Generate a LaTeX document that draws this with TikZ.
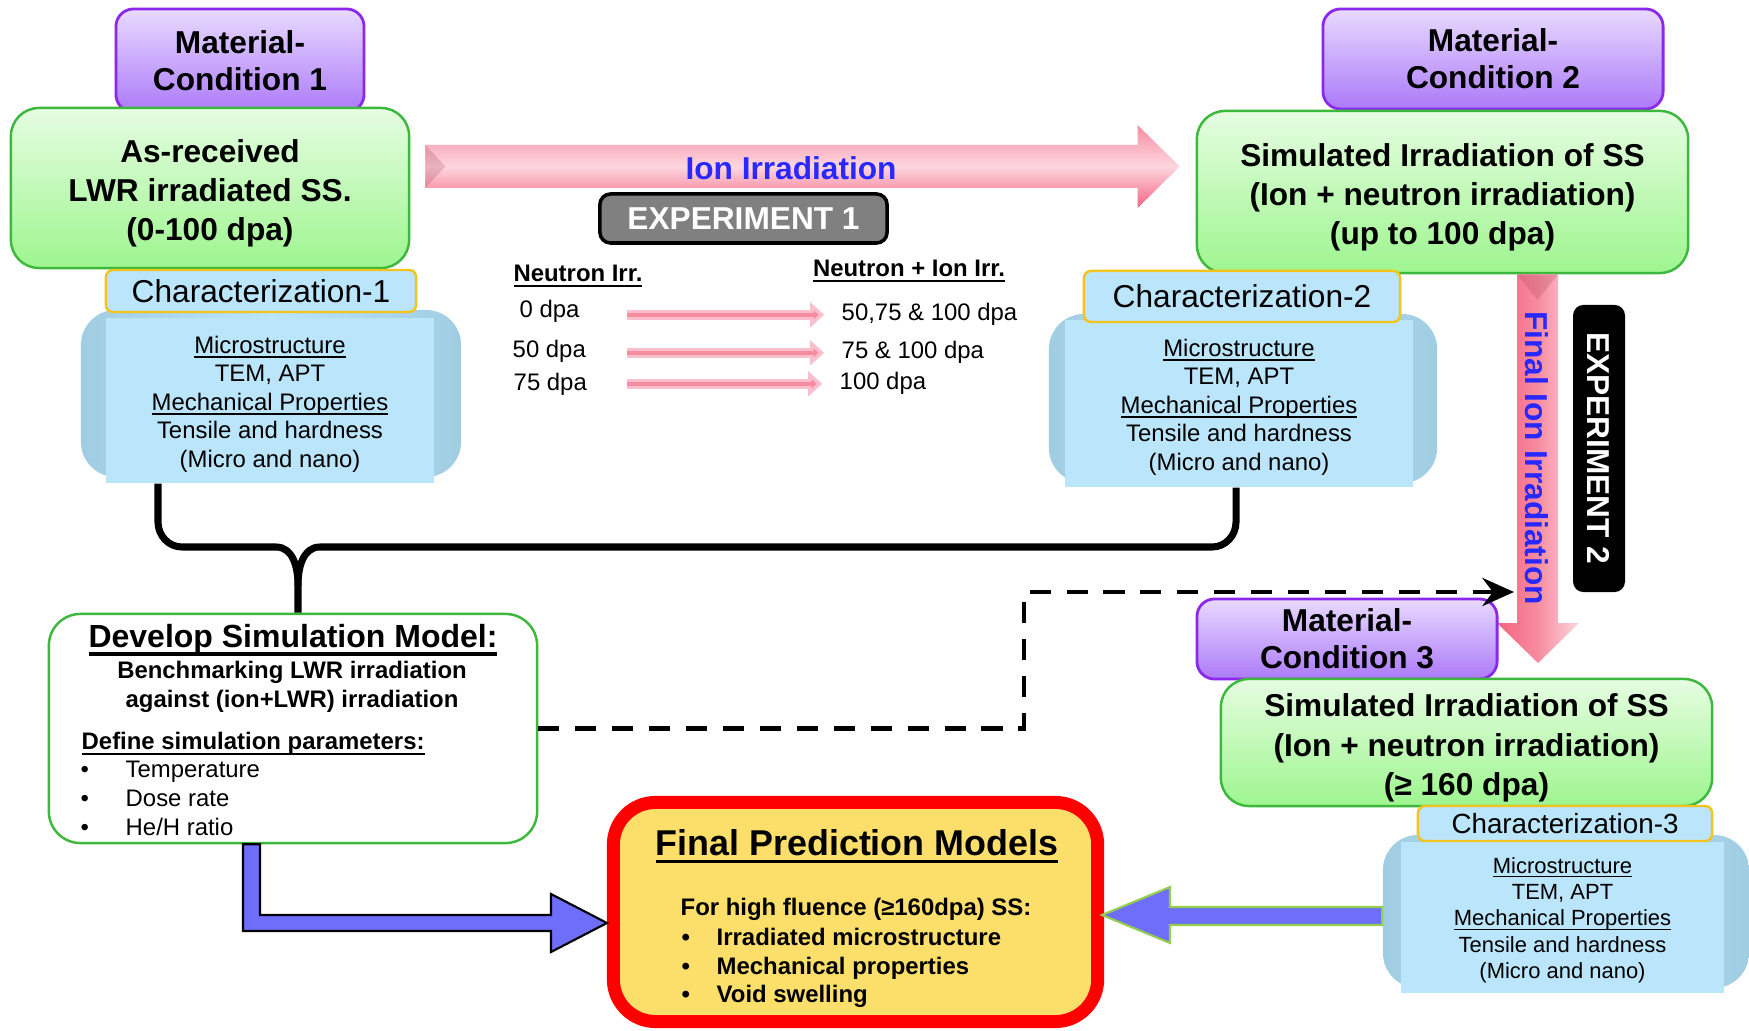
\documentclass[tikz,border=0pt]{standalone}
\usepackage{fontspec}
\setmainfont{Liberation Sans}
\usetikzlibrary{arrows.meta,calc}

\newcommand{\undl}[3][0.45pt]{\setbox0\hbox{#3}\rlap{#3}\rule[-#2]{\wd0}{#1}}

\definecolor{matedge}{RGB}{140,40,235}
\definecolor{mattop}{RGB}{232,218,255}
\definecolor{matbot}{RGB}{172,122,248}
\definecolor{sampedge}{RGB}{60,185,60}
\definecolor{samptop}{RGB}{230,253,226}
\definecolor{sampbot}{RGB}{158,245,143}
\definecolor{charfill}{RGB}{186,229,251}
\definecolor{charedge}{RGB}{245,195,30}
\definecolor{tabedge}{RGB}{160,205,226}
\definecolor{pinkdeep}{RGB}{244,100,128}
\definecolor{pinkmid}{RGB}{246,140,160}
\definecolor{pinklight}{RGB}{253,214,224}
\definecolor{pinksoft}{RGB}{250,190,204}
\definecolor{ionblue}{RGB}{40,40,255}
\definecolor{arrblue}{RGB}{110,110,250}
\definecolor{arredge}{RGB}{150,205,80}
\definecolor{finalfill}{RGB}{252,222,106}
\definecolor{expgray}{RGB}{128,128,128}

\begin{document}
\begin{tikzpicture}[x=0.01cm,y=-0.01cm,
    matcond/.style ={rounded corners=5pt, draw=matedge, line width=0.8pt, top color=mattop, bottom color=matbot, inner sep=0pt, align=center, font=\fontsize{9}{10.5}\selectfont\bfseries},
    sample/.style ={rounded corners=8pt, draw=sampedge, line width=0.7pt, top color=samptop, bottom color=sampbot, inner sep=0pt, align=center, text height=32pt, font=\fontsize{9}{11.2}\selectfont\bfseries},
    charhead/.style ={rounded corners=2pt, draw=charedge, line width=0.7pt, fill=charfill, inner sep=0pt, font=\fontsize{9}{10}\selectfont},
    chartab/.style ={rounded corners=10pt, left color=tabedge, right color=tabedge, middle color=charfill, inner sep=0pt},
    charbody/.style ={fill=charfill, inner sep=0pt, align=center, text height=39.3pt, font=\fontsize{6.8}{8.1}\selectfont},
    pinkarrow/.style ={top color=pinkmid, bottom color=pinkdeep, middle color=pinklight},
    blockarrow/.style ={fill=arrblue, draw=black, line width=0.6pt},
    exphead/.style ={rounded corners=3pt, inner sep=0pt, text=white, font=\fontsize{9}{10}\selectfont\bfseries},
    ionlabel/.style ={inner sep=0pt, text=ionblue, font=\fontsize{9}{10}\selectfont\bfseries},
    irrhead/.style ={inner sep=0pt, anchor=base, font=\fontsize{6.8}{8}\selectfont\bfseries},
    dose/.style ={inner sep=0pt, anchor=base west, font=\fontsize{6.8}{8}\selectfont},
    doseline/.style ={line width=2.8pt, draw=pinksoft, -{Triangle[length=4pt,width=7pt,fill=pinkmid]},
       postaction={draw=pinkmid, line width=1pt, -, shorten >=3pt}},
    bracket/.style ={line width=2pt, line join=round},
    dashlink/.style ={line width=1.3pt, dash pattern=on 6pt off 4.5pt, -{Stealth[length=9pt,width=8pt,inset=3pt]}},
    small/.style ={inner sep=0pt, anchor=base west, font=\fontsize{6.8}{8.2}\selectfont},
    smallbf/.style ={inner sep=0pt, align=center, font=\fontsize{6.8}{8.2}\selectfont\bfseries}]
   \useasboundingbox (0,0) rectangle (1749,1031);

   % experiment 1, left side
   \node[matcond, minimum width=2.48cm, minimum height=1.03cm] (mat1) at (240,60.5) {Material-\\Condition 1};
   \node[sample, minimum width=3.98cm, minimum height=1.60cm] (asrec) at (210,188) {As-received\\LWR irradiated SS.\\(0-100 dpa)};
   \node[chartab, minimum width=3.80cm, minimum height=1.67cm] (tab1) at (271,393.5) {};
   \node[charbody, minimum width=3.28cm, minimum height=1.65cm] (body1) at (270,400.5) {\undl{1.3pt}{Microstructure}\\TEM, APT\\\undl{1.3pt}{Mechanical Properties}\\Tensile and hardness\\(Micro and nano)};
   \node[charhead, minimum width=3.10cm, minimum height=0.42cm] (char1) at (261,291) {Characterization-1};

   % experiment 1, right side
   \node[matcond, minimum width=3.40cm, minimum height=1.00cm] (mat2) at (1493,59) {Material-\\Condition 2};
   \node[sample, minimum width=4.91cm, minimum height=1.62cm] (sim2) at (1442.5,192) {Simulated Irradiation of SS\\(Ion + neutron irradiation)\\(up to 100 dpa)};
   \node[chartab, minimum width=3.88cm, minimum height=1.69cm] (tab2) at (1243,398.5) {};
   \node[charbody, minimum width=3.48cm, minimum height=1.67cm] (body2) at (1239,403.5) {\undl{1.3pt}{Microstructure}\\TEM, APT\\\undl{1.3pt}{Mechanical Properties}\\Tensile and hardness\\(Micro and nano)};
   \node[charhead, minimum width=3.16cm, minimum height=0.51cm] (char2) at (1242,296.5) {Characterization-2};

   % ion irradiation arrow
   \coordinate (ionS) at ($(asrec.east |- 0,166.5)+(15,0)$);
   \coordinate (ionE) at ($(sim2.west |- 0,166.5)+(-16,0)$);
   \path[pinkarrow] ($(ionS)+(0,-21.5)$) -- ($(ionE)+(-42,-21.5)$) -- ($(ionE)+(-42,-41.5)$) -- (ionE)
      -- ($(ionE)+(-42,41.5)$) -- ($(ionE)+(-42,21.5)$) -- ($(ionS)+(0,21.5)$) -- cycle;
   \fill[pinkdeep!70!black, opacity=0.25] ($(ionS)+(0,-21.5)$) -- ($(ionS)+(20,0)$) -- ($(ionS)+(0,21.5)$) -- cycle;
   \node[ionlabel] (ionL) at (791,168) {Ion Irradiation};
   \node[exphead, fill=expgray, draw=black, line width=1pt, minimum width=2.87cm, minimum height=0.49cm] (exp1) at (743.5,218.5) {EXPERIMENT 1};

   % dose table
   \node[irrhead] (nhead) at (578,282) {\undl[0.6pt]{1.5pt}{Neutron Irr.}};
   \node[irrhead] (nihead) at (909,277) {\undl[0.6pt]{1.5pt}{Neutron + Ion Irr.}};
   \node[dose] (nirr0) at (519,318) {0 dpa};
   \node[dose] (nirr50) at (512,358) {50 dpa};
   \node[dose] (nirr75) at (513,391) {75 dpa};
   \node[dose] (niirr0) at (841,321) {50,75 \& 100 dpa};
   \node[dose] (niirr50) at (841,359) {75 \& 100 dpa};
   \node[dose] (niirr75) at (839,390) {100 dpa};
   \draw[doseline] (627,0 |- niirr0.west) -- ([xshift=-4.8pt]niirr0.west);
   \draw[doseline] (627,0 |- niirr50.west) -- ([xshift=-4.8pt]niirr50.west);
   \draw[doseline] (627,0 |- niirr75.west) -- ([xshift=-4.8pt]niirr75.west);

   % experiment 2
   \coordinate (vtip) at (1538,663);
   \path[left color=pinkdeep, right color=pinklight, middle color=pinkmid] (1517,0 |- sim2.south) -- (1517,623) -- (1497,623) -- (vtip)
      -- (1579,623) -- (1558,623) -- (1558,0 |- sim2.south) -- cycle;
   \fill[pinkdeep!70!black, opacity=0.25] (1517,0 |- sim2.south) -- (1537.5,300) -- (1558,0 |- sim2.south) -- cycle;
   \node[ionlabel, rotate=-90] (finalL) at (1537,458) {Final Ion Irradiation};
   \node[exphead, fill=black, rotate=-90, minimum width=2.87cm, minimum height=0.52cm] (exp2) at (1599,448.5) {EXPERIMENT 2};

   \node[matcond, minimum width=3.00cm, minimum height=0.80cm] (mat3) at (1347,639) {Material-\\Condition 3};
   \node[sample, minimum width=4.91cm, minimum height=1.27cm] (sim3) at (1466.5,742.5) {Simulated Irradiation of SS\\(Ion + neutron irradiation)\\(≥ 160 dpa)};
   \node[chartab, minimum width=3.66cm, minimum height=1.53cm] (tab3) at (1566,911.5) {};
   \node[charbody, font=\fontsize{6.25}{7.5}\selectfont, text height=36.1pt, minimum width=3.23cm, minimum height=1.51cm] (body3) at (1562.5,917.5) {\undl{1.2pt}{Microstructure}\\TEM, APT\\\undl{1.2pt}{Mechanical Properties}\\Tensile and hardness\\(Micro and nano)};
   \node[charhead, font=\fontsize{7.9}{9}\selectfont, minimum width=2.94cm, minimum height=0.35cm] (char3) at (1565,823.5) {Characterization-3};

   % simulation model
   \node[draw=sampedge, line width=0.7pt, fill=white, rounded corners=9pt, minimum width=4.88cm, minimum height=2.29cm] (develop) at (293,728.5) {};
   \node[inner sep=0pt, anchor=base, font=\fontsize{9.1}{10}\selectfont\bfseries] (devT) at (293,647) {\undl[1.1pt]{2.6pt}{Develop Simulation Model:}};
   \node[smallbf] (devB) at (292,686.5) {Benchmarking LWR irradiation\\against (ion+LWR) irradiation};
   \node[smallbf, anchor=base west] (devD) at (81,749) {\undl[0.6pt]{1.6pt}{Define simulation parameters:}};
   \node[small] (devb1) at (80,777) {\textbullet};
   \node[small] (devp1) at (125,777) {Temperature};
   \node[small] (devb2) at (80,806) {\textbullet};
   \node[small] (devp2) at (125,806) {Dose rate};
   \node[small] (devb3) at (80,835) {\textbullet};
   \node[small] (devp3) at (125,835) {He/H ratio};

   % final models
   \node[draw=red, line width=3.7pt, fill=finalfill, rounded corners=12pt, minimum width=4.84cm, minimum height=2.19cm] (final) at (855.5,912) {};
   \node[inner sep=0pt, anchor=base, font=\fontsize{10.2}{11}\selectfont\bfseries] (finT) at (857,855) {\undl[1pt]{2.4pt}{Final Prediction Models}};
   \node[smallbf, anchor=base west] (finF) at (680,915) {For high fluence (≥160dpa) SS:};
   \node[smallbf, anchor=base west] (finb1) at (681,945) {\textbullet};
   \node[smallbf, anchor=base west] (finp1) at (716,945) {Irradiated microstructure};
   \node[smallbf, anchor=base west] (finb2) at (681,974) {\textbullet};
   \node[smallbf, anchor=base west] (finp2) at (716,974) {Mechanical properties};
   \node[smallbf, anchor=base west] (finb3) at (681,1002) {\textbullet};
   \node[smallbf, anchor=base west] (finp3) at (716,1002) {Void swelling};

   % connectors
   \draw[bracket] (158,0 |- body1.south) -- (158,522) to[out=-90,in=180] (182,547) -- (276,547) to[out=0,in=90] (298,585) -- (298,0 |- develop.north);
   \draw[bracket] (1236,0 |- body2.south) -- (1236,522) to[out=-90,in=0] (1212,547) -- (320,547) to[out=180,in=90] (298,585);
   \coordinate (dashT) at (1514,592);
   \draw[dashlink] (develop.east) -- (1024,0 |- develop.east) -- (1024,592) -- (dashT);
   \coordinate (elbT) at (607,923);
   \draw[blockarrow] (243,0 |- develop.south) -- (243,931) -- (551,931) -- (551,952) -- (elbT) -- (551,894) -- (551,915) -- (260,915) -- (260,0 |- develop.south) -- cycle;
   \coordinate (lefT) at (1102,915);
   \draw[blockarrow, draw=arredge] (tab3.west |- 0,907) -- (1170,907) -- (1170,887) -- (lefT) -- (1170,943) -- (1170,925) -- (tab3.west |- 0,925) -- cycle;
 \end{tikzpicture}
\end{document}
